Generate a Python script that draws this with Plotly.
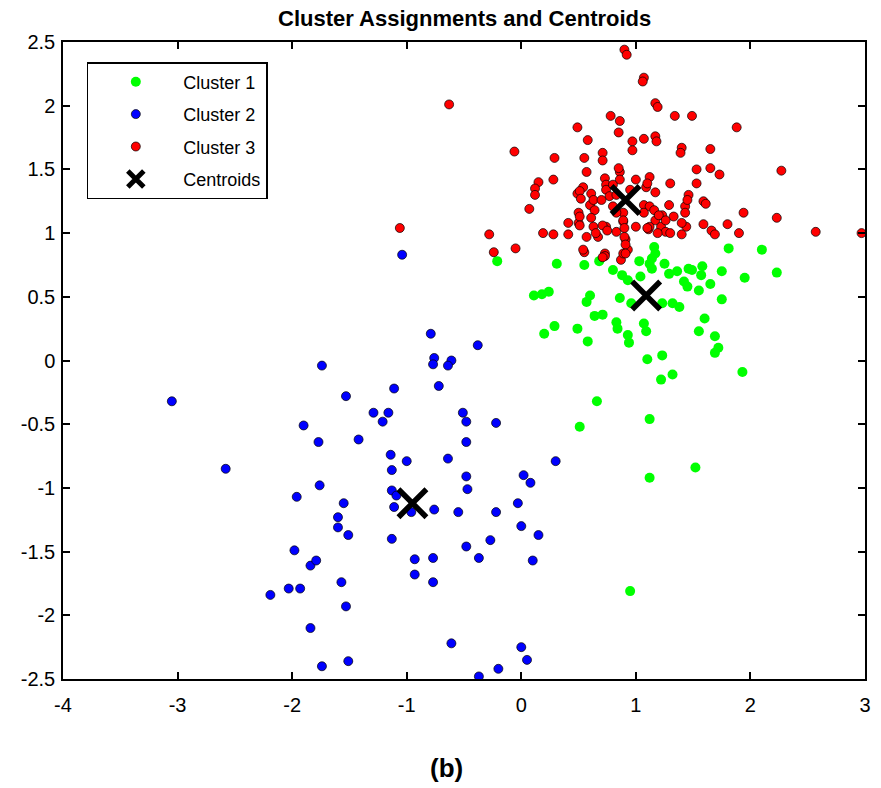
import plotly.graph_objects as go

# ---- data ----
c1_x = [-0.21, 0.31, 0.55, 0.68, 0.80, 0.88, 0.93, 1.03, 1.12, 1.16, 1.14, 1.25, 1.29, 1.04,
        0.11, 0.18, 0.24, 0.60, 0.57, 0.86, 0.96, 1.23, 1.32, 0.64, 0.71, 0.29, 0.20, 0.49,
        0.83, 0.84, 1.07, 1.09, 0.93, 0.94, 0.58, 1.10, 1.23, 1.22, 1.32, 0.66, 1.12, 0.51,
        1.81, 2.10, 1.36, 1.46, 1.49, 1.58, 1.57, 1.75, 1.42, 1.45, 1.65, 1.55, 1.95, 2.23,
        1.38, 1.75, 1.60, 1.55, 1.69, 1.72, 1.69, 1.93, 1.14, 1.17, 0.95, 1.12, 1.52]
c1_y = [0.78, 0.76, 0.75, 0.78, 0.71, 0.67, 0.63, 0.78, 0.76, 0.89, 0.72, 0.76, 0.68, 0.66,
        0.51, 0.52, 0.54, 0.51, 0.46, 0.49, 0.45, 0.45, 0.45, 0.35, 0.36, 0.27, 0.21, 0.25,
        0.30, 0.25, 0.29, 0.23, 0.20, 0.14, 0.15, 0.01, 0.04, -0.15, -0.11, -0.32, -0.46, -0.52,
        0.88, 0.87, 0.70, 0.72, 0.71, 0.74, 0.67, 0.70, 0.62, 0.58, 0.60, 0.55, 0.65, 0.69,
        0.42, 0.48, 0.33, 0.23, 0.19, 0.10, 0.06, -0.09, 0.80, 0.84, -1.81, -0.92, -0.84]

c2_x = [-3.05, -2.58, -1.04, -1.74, -1.53, -1.11, -1.29, -1.16, -1.21, -1.90, -1.77, -1.42,
        -1.14, -1.13, -1.76, -1.96, -1.55, -1.13, -1.09, -0.79, -0.38, -0.76, -0.77, -0.61,
        -0.64, -0.72, -0.51, -0.48, -0.22, -0.48, -1.00, -0.64, -0.48, -0.47, 0.02, 0.08,
        0.30, -1.11, -1.60, -1.60, -1.51, -1.13, -1.98, -1.84, -1.79, -1.57, -2.19, -2.03,
        -1.93, -1.53, -1.84, -1.74, -1.51, -0.96, -0.76, -0.55, -0.22, -0.03, 0.00, 0.15,
        -0.48, -0.27, -0.93, -0.77, -0.37, 0.10, -0.93, -0.77, -0.61, 0.00, 0.05, -0.20, -0.37]
c2_y = [-0.32, -0.85, 0.83, -0.04, -0.28, -0.22, -0.41, -0.41, -0.48, -0.51, -0.64, -0.62,
        -0.74, -0.86, -0.98, -1.07, -1.12, -1.02, -1.06, 0.21, 0.12, 0.02, -0.03, 0.00,
        -0.04, -0.20, -0.41, -0.48, -0.49, -0.64, -0.79, -0.77, -0.91, -1.01, -0.90, -0.96,
        -0.79, -1.15, -1.23, -1.31, -1.37, -1.40, -1.49, -1.61, -1.57, -1.74, -1.84, -1.79,
        -1.79, -1.93, -2.10, -2.40, -2.36, -1.19, -1.17, -1.19, -1.19, -1.12, -1.30, -1.37,
        -1.46, -1.41, -1.56, -1.55, -1.55, -1.57, -1.68, -1.74, -2.22, -2.25, -2.35, -2.42, -2.48]

c3_x = [-0.63, -1.06, -0.06, 0.29, 0.28, 0.15, 0.12, 0.12, 0.07, -0.28, -0.24, -0.05, 0.19,
        0.28, 0.41, 0.41, 0.50, 0.50, 0.49, 0.58, 0.55, 0.57, 0.71, 0.71, 0.78, 0.86, 0.85,
        0.90, 0.92, 0.49, 0.54, 0.61, 0.60, 0.64, 0.57, 0.67, 0.55, 0.73, 0.74, 0.83, 0.89,
        1.07, 1.06, 1.17, 1.19, 1.34, 1.49, 1.88, 0.97, 0.97, 1.07, 1.17, 1.18, 1.40, 1.39,
        1.65, 1.53, 1.65, 1.73, 2.27, 0.86, 0.86, 1.12, 1.09, 1.17, 1.30, 1.53, 1.46, 1.43,
        1.43, 1.59, 1.61, 1.29, 1.33, 1.23, 1.07, 1.12, 1.16, 1.17, 1.22, 1.26, 1.19, 1.94,
        2.23, 1.80, 1.90, 1.59, 1.66, 1.69, 1.44, 1.40, 1.11, 2.57, 2.97, 0.89, 0.91, 0.93,
        1.00, 1.12, 0.73, 0.87, 0.89, 0.85, 1.10, 0.73, 0.74, 0.74, 0.77, 0.51, 0.52, 0.63,
        1.45, 1.07, 0.80, 0.83, 1.20, 1.26, 1.40, 0.51, 0.51, 0.61, 0.63, 0.65, 0.71, 0.75,
        0.89, 0.90, 0.90, 0.91, 0.91, 1.10, 1.30, 0.54, 0.71, 0.80, 0.83, 1.00, 0.70, 0.95]
c3_y = [2.01, 1.04, 1.64, 1.59, 1.42, 1.40, 1.35, 1.30, 1.19, 0.99, 0.85, 0.88, 1.00,
        0.99, 1.08, 0.99, 1.16, 1.08, 1.83, 1.73, 1.59, 1.48, 1.63, 1.57, 1.92, 1.88, 1.79,
        2.44, 2.40, 1.31, 1.36, 1.31, 1.22, 1.18, 0.97, 0.97, 0.85, 0.84, 1.05, 1.01, 1.09,
        2.22, 2.19, 2.02, 1.99, 1.92, 1.92, 1.83, 1.72, 1.65, 1.74, 1.76, 1.72, 1.67, 1.63,
        1.66, 1.50, 1.51, 1.46, 1.49, 1.48, 1.42, 1.44, 1.36, 1.32, 1.39, 1.39, 1.30, 1.21,
        1.16, 1.25, 1.23, 1.22, 1.13, 1.14, 1.22, 1.21, 1.18, 1.10, 1.05, 1.01, 1.00, 1.16,
        1.12, 1.07, 1.00, 1.07, 1.02, 0.99, 1.05, 0.99, 1.03, 1.01, 1.00, 1.16, 0.95, 0.87,
        1.05, 1.05, 0.82, 0.79, 0.84, 1.51, 1.39, 1.43, 1.38, 1.34, 1.29, 1.33, 1.27, 1.26,
        1.26, 1.16, 1.21, 1.16, 1.14, 1.10, 1.08, 1.13, 1.06, 1.12, 1.05, 1.00, 1.06, 1.02,
        1.10, 1.04, 0.97, 0.91, 0.84, 1.04, 1.00, 0.87, 0.81, 1.38, 1.30, 1.42, 1.26, 1.34]

centroid_x = [1.09, -0.95, 0.91]
centroid_y = [0.51, -1.12, 1.26]

x_ticks = [-4, -3, -2, -1, 0, 1, 2, 3]
x_ticktext = ["-4", "-3", "-2", "-1", "0", "1", "2", "3"]
y_ticks = [-2.5, -2, -1.5, -1, -0.5, 0, 0.5, 1, 1.5, 2, 2.5]
y_ticktext = ["-2.5", "-2", "-1.5", "-1", "-0.5", "0", "0.5", "1", "1.5", "2", "2.5"]

FONT = "Liberation Sans, Arial, sans-serif"

fig = go.Figure()
fig.add_trace(go.Scatter(x=c1_x, y=c1_y, mode="markers", name="Cluster 1", legendgroup="g1",
                         marker=dict(color="#00ff00", size=10, line=dict(width=0))))
fig.add_trace(go.Scatter(x=c2_x, y=c2_y, mode="markers", name="Cluster 2", legendgroup="g2",
                         marker=dict(color="#0000ff", size=9, line=dict(width=0.7, color="#000000"))))
fig.add_trace(go.Scatter(x=c3_x, y=c3_y, mode="markers", name="Cluster 3", legendgroup="g3",
                         marker=dict(color="#ff0000", size=9, line=dict(width=0.7, color="#000000"))))
fig.add_trace(go.Scatter(x=centroid_x, y=centroid_y, mode="markers", name="Centroids", legendgroup="g4",
                         marker=dict(symbol="x-thin", color="black", size=28,
                                     line=dict(width=5.5, color="black"))))

axis_common = dict(showgrid=False, zeroline=False, showline=True, linecolor="black",
                   linewidth=1.5, mirror="ticks", ticks="inside", ticklen=7,
                   tickwidth=1.5, tickcolor="black",
                   tickfont=dict(family=FONT, size=20, color="black"))

fig.update_layout(
    width=881, height=788,
    margin=dict(l=63, r=10, t=42, b=109),
    paper_bgcolor="white", plot_bgcolor="white",
    xaxis=dict(range=[-4, 3], tickvals=x_ticks, ticktext=x_ticktext,
               ticklabelstandoff=7, **axis_common),
    yaxis=dict(range=[-2.5, 2.5], tickvals=y_ticks, ticktext=y_ticktext,
               ticklabelstandoff=2, **axis_common),
    showlegend=True,
    legend=dict(x=0.0297, y=0.9686, xanchor="left", yanchor="top",
                bordercolor="black", borderwidth=1.5, bgcolor="white",
                font=dict(family=FONT, size=18, color="black"),
                itemwidth=85, itemsizing="trace", traceorder="grouped", tracegroupgap=6),
    font=dict(family=FONT, color="black"),
)

fig.add_annotation(text="<b>Cluster Assignments and Centroids</b>", xref="paper", yref="paper",
                   x=0.5, y=1, yshift=9, xanchor="center", yanchor="bottom", showarrow=False,
                   font=dict(family=FONT, size=22, color="black"))
fig.add_annotation(text="<b>(b)</b>", xref="paper", yref="paper",
                   x=0.478, y=0, yshift=-72, xanchor="center", yanchor="top", showarrow=False,
                   font=dict(family=FONT, size=26, color="black"))

fig.write_html("out.html")
